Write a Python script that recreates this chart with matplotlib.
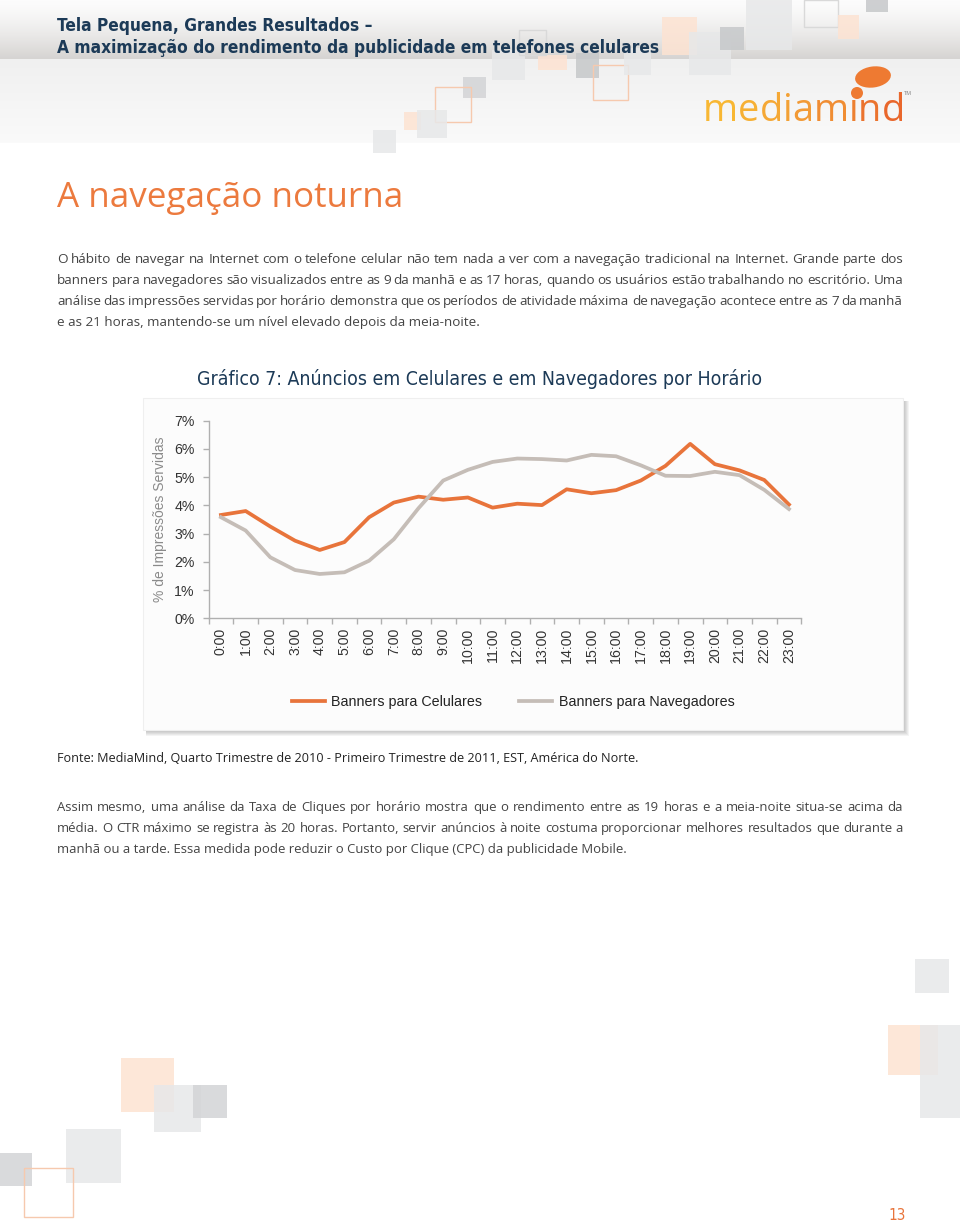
import matplotlib
matplotlib.use("Agg")
import matplotlib.pyplot as plt
import numpy as np
from matplotlib.patches import Rectangle, Ellipse, Circle

# data
hours = [f"{h}:00" for h in range(24)]
celulares = [3.66, 3.80, 3.25, 2.75, 2.42, 2.70, 3.58, 4.10, 4.31, 4.20, 4.28, 3.92,
             4.06, 4.01, 4.57, 4.43, 4.54, 4.88, 5.40, 6.18, 5.46, 5.24, 4.90, 4.03]
navegadores = [3.58, 3.11, 2.16, 1.71, 1.57, 1.63, 2.04, 2.80, 3.90, 4.88, 5.26, 5.54,
               5.66, 5.64, 5.59, 5.79, 5.74, 5.42, 5.05, 5.04, 5.19, 5.07, 4.55, 3.87]
y_ticks = [0, 1, 2, 3, 4, 5, 6, 7]
series_names = ["Banners para Celulares", "Banners para Navegadores"]

ORANGE = "#e8743b"
GRAY_LINE = "#c5bdb7"
NAVY = "#1c3a57"

NARROW = ["DejaVu Sans Condensed", "DejaVu Sans"]
HUMAN = ["Open Sans", "DejaVu Sans"]
ARIAL = ["Liberation Sans", "DejaVu Sans"]

W, H = 960, 1223
fig = plt.figure(figsize=(W / 100, H / 100), dpi=100)
bg = fig.add_axes([0, 0, 1, 1])
bg.axis("off")
renderer = fig.canvas.get_renderer()

# header band
prof = np.zeros((143, 1, 3))
top_a, top_b = np.array([252, 252, 252]) / 255, np.array([214, 212, 210]) / 255
low_a, low_b = np.array([240, 240, 240]) / 255, np.array([250, 250, 250]) / 255
for i in range(143):
    if i < 59:
        f = (i / 58) ** 1.4
        prof[i, 0] = top_a + (top_b - top_a) * f
    else:
        f = (i - 59) / 83
        prof[i, 0] = low_a + (low_b - low_a) * f
bg.imshow(prof, extent=[0, W, 143, 0], aspect="auto", zorder=0)
bg.set_xlim(0, W)
bg.set_ylim(H, 0)

LO = "#fde3d2"   # light orange
LG = "#e7e8e9"   # light gray
MG = "#d3d4d6"   # mid gray
DG = "#c6c8ca"   # darker gray
OL = "#f6c9ae"   # orange outline
squares = [
    (746, 0, 46, 50, LG, "f"), (804, 0, 34, 27, "#d9d9d9", "o"), (838, 15, 21, 24, LO, "f"),
    (866, 0, 22, 12, DG, "f"), (662, 17, 35, 38, LO, "f"), (689, 32, 42, 43, LG, "f"),
    (720, 27, 24, 23, DG, "f"), (576, 53, 23, 25, DG, "f"), (593, 65, 35, 35, OL, "o"),
    (624, 48, 27, 27, LG, "f"), (538, 55, 29, 15, LO, "f"), (492, 50, 33, 30, LG, "f"),
    (519, 30, 27, 25, "#d9d9d9", "o"), (463, 77, 23, 21, MG, "f"), (435, 87, 36, 35, OL, "o"),
    (404, 112, 17, 18, LO, "f"), (417, 110, 30, 28, LG, "f"), (373, 130, 23, 23, LG, "f"),
    (121, 1058, 53, 54, LO, "f"), (154, 1085, 47, 47, LG, "f"), (193, 1085, 34, 33, MG, "f"),
    (66, 1129, 55, 54, LG, "f"), (0, 1153, 32, 33, MG, "f"), (24, 1168, 49, 49, OL, "o"),
    (915, 959, 34, 34, LG, "f"), (888, 1025, 50, 50, LO, "f"), (920, 1025, 40, 93, LG, "f"),
]
for x, y, w, h, c, kind in squares:
    if kind == "f":
        bg.add_patch(Rectangle((x, y), w, h, fc=c, ec="none", alpha=0.85, zorder=1))
    else:
        bg.add_patch(Rectangle((x, y), w, h, fc="none", ec=c, lw=1.0, zorder=1))


def text_w(t):
    return t.get_window_extent(renderer).width


def fit_text(x, y, s, width, **kw):
    t = bg.text(x, y, s, fontsize=12, **kw)
    t.set_fontsize(12 * width / text_w(t))
    return t


def fit_size(s, width, **kw):
    t = bg.text(0, 0, s, fontsize=10, **kw)
    size = 10 * width / text_w(t)
    t.remove()
    return size


def paragraph(x, y0, lines, width, size, lead, **kw):
    for i, line in enumerate(lines):
        y = y0 + i * lead
        if i == len(lines) - 1:
            bg.text(x, y, line, fontsize=size, va="baseline", zorder=3, **kw)
            continue
        words = line.split(" ")
        ts = [bg.text(0, y, w_, fontsize=size, va="baseline", zorder=3, **kw) for w_ in words]
        ws = [text_w(t) for t in ts]
        gap = (width - sum(ws)) / (len(words) - 1)
        cx = x
        for t, w_ in zip(ts, ws):
            t.set_x(cx)
            cx += w_ + gap


# header titles
hkw = dict(family=NARROW, fontstretch="condensed", fontweight="bold")
hsize = fit_size("A maximização do rendimento da publicidade em telefones celulares", 600, **hkw)
bg.text(57, 31, "Tela Pequena, Grandes Resultados –", fontsize=hsize, color=NAVY,
        va="baseline", zorder=3, **hkw)
bg.text(57, 53, "A maximização do rendimento da publicidade em telefones celulares", fontsize=hsize,
        color=NAVY, va="baseline", zorder=3, **hkw)

# logo
logo = "mediamind"
lsize = fit_size(logo, 202, family=HUMAN)
cols = plt.matplotlib.colors.LinearSegmentedColormap.from_list("lg", ["#f8b733", "#f29a36", "#e9672c"])
for i, ch in enumerate(logo):
    off = 0
    if i:
        tmp = bg.text(0, 0, logo[:i], fontsize=lsize, family=HUMAN)
        off = text_w(tmp)
        tmp.remove()
    bg.text(703 + off, 121, ch, fontsize=lsize, family=HUMAN, color=cols(i / 8),
            va="baseline", zorder=3)
bg.add_patch(Ellipse((873, 77), 36, 21, angle=-8, fc="#ee7a32", ec="none", zorder=3))
bg.add_patch(Circle((857, 93), 6, fc="#ee7a32", ec="none", zorder=4))
bg.text(904, 95, "TM", fontsize=4, color="#888888", va="baseline", zorder=3, family=ARIAL)

# section heading
fit_text(57, 207, "A navegação noturna", 345, family=HUMAN, color="#ec7a3e", va="baseline", zorder=3)

# first paragraph
p1 = [
    "O hábito de navegar na Internet com o telefone celular não tem nada a ver com a navegação tradicional na Internet. Grande parte dos",
    "banners para navegadores são visualizados entre as 9 da manhã e as 17 horas, quando os usuários estão trabalhando no escritório. Uma",
    "análise das impressões servidas por horário demonstra que os períodos de atividade máxima de navegação acontece entre as 7 da manhã",
    "e as 21 horas, mantendo-se um nível elevado depois da meia-noite.",
]
psize = fit_size(p1[0], 840, family=HUMAN)
paragraph(57, 263, p1, 846, psize, 21, family=HUMAN, color="#444444")

# chart title
fit_text(197, 385, "Gráfico 7: Anúncios em Celulares e em Navegadores por Horário", 565,
         family=NARROW, fontstretch="condensed", color=NAVY, va="baseline", zorder=3)

# chart panel with shadow
x0, y0, x1, y1 = 143, 398, 903, 730
for d in [6, 5, 4, 3, 2]:
    bg.add_patch(Rectangle((x0 + 3, y0 + 3), x1 - x0 + d - 3, y1 - y0 + d - 3,
                           fc="black", ec="none", alpha=0.045, zorder=2))
bg.add_patch(Rectangle((x0, y0), x1 - x0, y1 - y0, fc="#fcfcfc", ec="#efefef", lw=0.8, zorder=2))

# chart axes
ax_l, ax_r, ax_b, ax_t = 208.6, 801.3, 618.3, 420.7
ax = fig.add_axes([ax_l / W, 1 - ax_b / H, (ax_r - ax_l) / W, (ax_b - ax_t) / H])
ax.set_facecolor("none")
x = np.arange(len(hours))
ax.plot(x, celulares, color=ORANGE, lw=2.7, label=series_names[0], solid_joinstyle="round")
ax.plot(x, navegadores, color=GRAY_LINE, lw=2.7, label=series_names[1], solid_joinstyle="round")
ax.set_xlim(-0.5, len(hours) - 0.5)
ax.set_ylim(0, 7)
ax.set_yticks(y_ticks)
ax.set_yticklabels([f"{v}%" for v in y_ticks], family=ARIAL, fontsize=10.2, color="#333333")
ax.set_xticks(x)
ax.set_xticklabels(hours, rotation=90, family=ARIAL, fontsize=10.2, color="#333333")
ax.set_xticks(np.arange(-0.5, len(hours)), minor=True)
ax.tick_params(axis="x", which="major", length=0, pad=7)
ax.tick_params(axis="x", which="minor", length=4, color="#b0b0b0", width=1)
ax.tick_params(axis="y", length=4, color="#b0b0b0", width=1, pad=6)
for s in ["top", "right"]:
    ax.spines[s].set_visible(False)
for s in ["left", "bottom"]:
    ax.spines[s].set_color("#b0b0b0")
    ax.spines[s].set_linewidth(1)
ax.set_ylabel("% de Impressões Servidas", family=ARIAL, fontsize=10, color="#8a8a8a")
ax.yaxis.set_label_coords(-0.07, 0.5)
ax.legend(loc="center", bbox_to_anchor=(513 / W, 1 - 702 / H), bbox_transform=fig.transFigure,
          ncol=2, frameon=False, prop={"family": ARIAL, "size": 10.3}, handlelength=2.3,
          handletextpad=0.45, columnspacing=2.6, labelcolor="#222222")

# source line
fit_text(57, 762, "Fonte: MediaMind, Quarto Trimestre de 2010 - Primeiro Trimestre de 2011, EST, América do Norte.",
         573, family=HUMAN, color="#222222", va="baseline", zorder=3)

# closing paragraph
p2 = [
    "Assim mesmo, uma análise da Taxa de Cliques por horário mostra que o rendimento entre as 19 horas e a meia-noite situa-se acima da",
    "média. O CTR máximo se registra às 20 horas. Portanto, servir anúncios à noite costuma proporcionar melhores resultados que durante a",
    "manhã ou a tarde. Essa medida pode reduzir o Custo por Clique (CPC) da publicidade Mobile.",
]
psize2 = fit_size(p2[1], 840, family=HUMAN)
paragraph(57, 811, p2, 846, psize2, 21, family=HUMAN, color="#444444")

# page number
bg.text(888, 1220, "13", fontsize=11, family=NARROW, fontstretch="condensed", color="#e8743b",
        va="baseline", zorder=3)

fig.savefig("out.png", dpi=100)
